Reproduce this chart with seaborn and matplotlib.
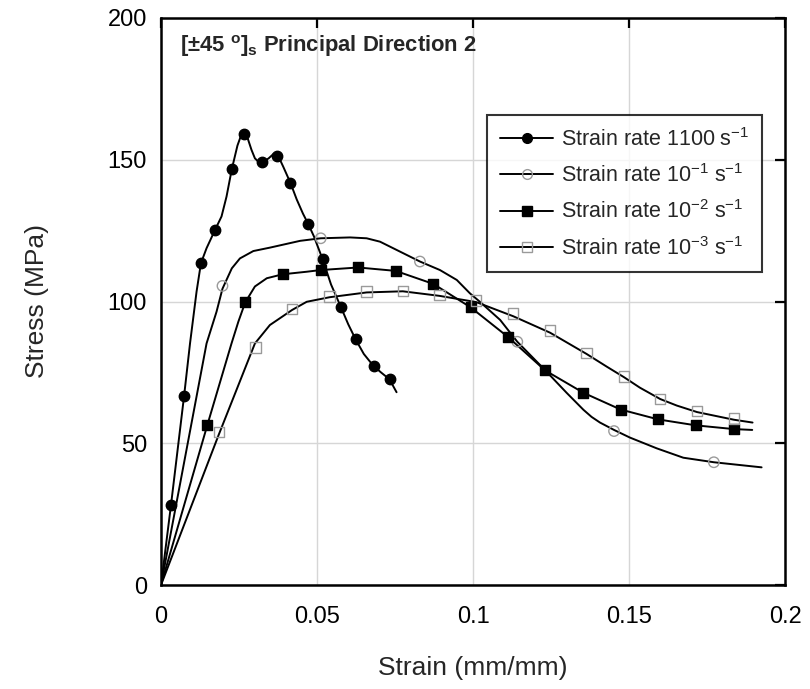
import matplotlib
matplotlib.use("Agg")
import matplotlib.pyplot as plt
from matplotlib.lines import Line2D
from matplotlib.ticker import FixedLocator, FixedFormatter
import seaborn as sns

# ---------------- data ----------------
# Strain rate 1100 s^-1 : curve and markers
r1100_line_x = [0, 0.0032, 0.0074, 0.0093, 0.0114, 0.0128, 0.0146, 0.0173, 0.0194, 0.021, 0.0227, 0.0245,
                0.0258, 0.0267, 0.0278, 0.029, 0.0301, 0.0315, 0.0325, 0.0345, 0.036, 0.0375, 0.0392,
                0.0415, 0.0435, 0.0455, 0.0472, 0.049, 0.0518, 0.0545, 0.0576, 0.06, 0.0624, 0.065,
                0.068, 0.0705, 0.0733, 0.0745, 0.0755]
r1100_line_y = [0, 28.2, 66.7, 85.2, 103.5, 113.5, 118.8, 125.2, 130, 137, 146.7, 155,
                159, 159.5, 157.5, 153.5, 150.5, 149, 149.1, 150.5, 152, 151.5, 147.5,
                141.8, 136, 131, 127.3, 123, 114.9, 106, 98.2, 92, 86.6, 81.5,
                77.4, 75, 72.5, 70, 68]
r1100_mk_x = [0.0032, 0.0074, 0.0128, 0.0173, 0.0227, 0.0267, 0.0325, 0.0371, 0.0415, 0.0472, 0.0518,
              0.0576, 0.0624, 0.0683, 0.0733]
r1100_mk_y = [28.2, 66.7, 113.5, 125.2, 146.7, 159.0, 149.1, 151.4, 141.8, 127.3, 114.9,
              98.2, 86.6, 77.4, 72.5]

# Strain rate 10^-1 s^-1
r1e1_line_x = [0, 0.0146, 0.0178, 0.0197, 0.0227, 0.0253, 0.0296, 0.0349, 0.0446, 0.0512, 0.0606, 0.0659,
               0.0702, 0.0766, 0.083, 0.0894, 0.0948, 0.099, 0.1022, 0.1087, 0.1142, 0.1231, 0.13,
               0.1354, 0.138, 0.1407, 0.1452, 0.1503, 0.1589, 0.1674, 0.1772, 0.1925]
r1e1_line_y = [0, 85.2, 96.4, 104.5, 111.7, 115.2, 117.8, 119.0, 121.4, 122.3, 122.6, 122.3,
               121.1, 117.6, 114.1, 111.1, 107.6, 102.9, 99.9, 93.5, 85.8, 75.8, 67.8,
               61.8, 59.3, 57.3, 54.7, 52.0, 48.2, 44.9, 43.3, 41.5]
r1e1_mk_x = [0.0197, 0.0512, 0.083, 0.1142, 0.1452, 0.1772]
r1e1_mk_y = [105.5, 122.3, 114.1, 85.8, 54.3, 43.3]

# Strain rate 10^-2 s^-1
r1e2_line_x = [0, 0.0149, 0.0226, 0.0248, 0.027, 0.0301, 0.0339, 0.039, 0.0467, 0.0512, 0.0632, 0.0752,
               0.0873, 0.0993, 0.1112, 0.1231, 0.1354, 0.1473, 0.1594, 0.1715, 0.1836, 0.1895]
r1e2_line_y = [0, 56.6, 85.2, 92.9, 99.7, 105.3, 108.2, 109.6, 110.5, 111.1, 112.0, 110.8,
               106.2, 97.9, 87.5, 75.7, 67.8, 61.9, 58.4, 56.3, 55.0, 54.7]
r1e2_mk_x = [0.0149, 0.027, 0.039, 0.0512, 0.0632, 0.0752, 0.0873, 0.0993, 0.1112, 0.1231, 0.1354,
             0.1473, 0.1594, 0.1715, 0.1836]
r1e2_mk_y = [56.6, 99.7, 109.6, 111.1, 112.0, 110.8, 106.2, 97.9, 87.5, 75.7, 67.8,
             61.9, 58.4, 56.3, 55.0]

# Strain rate 10^-3 s^-1
r1e3_line_x = [0, 0.0185, 0.0301, 0.0349, 0.042, 0.0467, 0.054, 0.0659, 0.0775, 0.0892, 0.101, 0.1129,
               0.1247, 0.1364, 0.1429, 0.1484, 0.1535, 0.16, 0.1653, 0.1718, 0.1836, 0.1896]
r1e3_line_y = [0, 53.0, 85.2, 91.7, 97.0, 99.9, 101.5, 103.2, 103.6, 102.0, 99.8, 94.8,
               89.0, 81.5, 77.0, 73.3, 69.6, 65.6, 63.3, 61.0, 58.3, 57.3]
r1e3_mk_x = [0.0185, 0.0303, 0.042, 0.054, 0.0659, 0.0775, 0.0892, 0.101, 0.1129, 0.1247, 0.1364,
             0.1484, 0.16, 0.1718, 0.1836]
r1e3_mk_y = [54.0, 83.8, 97.4, 101.7, 103.5, 103.8, 102.2, 100.3, 95.7, 89.8, 81.9,
             73.5, 65.6, 61.3, 58.8]

labels = ["Strain rate 1100 s$^{-1}$", "Strain rate 10$^{-1}$ s$^{-1}$",
          "Strain rate 10$^{-2}$ s$^{-1}$", "Strain rate 10$^{-3}$ s$^{-1}$"]

x_ticks = [0, 0.05, 0.1, 0.15, 0.2]
x_ticklabels = ["0", "0.05", "0.1", "0.15", "0.2"]
y_ticks = [0, 50, 100, 150, 200]
y_ticklabels = ["0", "50", "100", "150", "200"]

# ---------------- style ----------------
sns.set_style("white")
plt.rcParams["font.family"] = ["Liberation Sans", "DejaVu Sans"]
plt.rcParams["mathtext.fontset"] = "custom"
plt.rcParams["mathtext.rm"] = "Liberation Sans"
plt.rcParams["mathtext.it"] = "Liberation Sans:italic"
plt.rcParams["mathtext.bf"] = "Liberation Sans:bold"
plt.rcParams["mathtext.default"] = "regular"

fig = plt.figure(figsize=(8.10, 6.89), dpi=100)
ax = fig.add_axes([161 / 810, 1 - 585 / 689, 624 / 810, 567 / 689])

series = [
    (r1100_line_x, r1100_line_y, r1100_mk_x, r1100_mk_y, "o", "black", "black", 7.5),
    (r1e1_line_x, r1e1_line_y, r1e1_mk_x, r1e1_mk_y, "o", "none", "#9a9a9a", 7.5),
    (r1e2_line_x, r1e2_line_y, r1e2_mk_x, r1e2_mk_y, "s", "black", "black", 7.5),
    (r1e3_line_x, r1e3_line_y, r1e3_mk_x, r1e3_mk_y, "s", "none", "#9a9a9a", 7.5),
]
lw = 1.4

handles = []
for (lx, ly, mx, my, mk, fc, ec, ms), lab in zip(series, labels):
    sns.lineplot(x=lx, y=ly, sort=False, estimator=None, color="black", linewidth=lw, ax=ax, zorder=2)
    ax.scatter(mx, my, marker=mk, s=ms ** 2, facecolors=fc, edgecolors=ec, linewidths=1.0, zorder=3)
    handles.append(Line2D([0], [0], color="black", linewidth=lw, marker=mk, markersize=ms - 0.5,
                          markerfacecolor=fc, markeredgecolor=ec, markeredgewidth=1.0))

ax.set_xlim(0, 0.2)
ax.set_ylim(0, 200)
ax.xaxis.set_major_locator(FixedLocator(x_ticks))
ax.xaxis.set_major_formatter(FixedFormatter(x_ticklabels))
ax.yaxis.set_major_locator(FixedLocator(y_ticks))
ax.yaxis.set_major_formatter(FixedFormatter(y_ticklabels))
ax.grid(True, color="#d6d6d6", linewidth=1.0)
ax.set_axisbelow(True)
ax.tick_params(direction="in", length=7, width=1.6, top=True, right=True,
               labelsize=17, colors="black")
ax.tick_params(axis="x", pad=15)
ax.tick_params(axis="y", pad=10)
for s in ax.spines.values():
    s.set_color("black")
    s.set_linewidth(1.8)

ax.set_xlabel("Strain (mm/mm)", fontsize=19, labelpad=20)
ax.set_ylabel("Stress (MPa)", fontsize=19, labelpad=42)

ax.text(0.030, 0.951, r"$\mathbf{[\pm45\ ^{o}]_{s}}$ Principal Direction 2", transform=ax.transAxes,
        fontsize=15.8, fontweight="bold", ha="left", va="center")

leg = ax.legend(handles, labels, loc="upper left", bbox_to_anchor=(0.522, 0.829),
                fontsize=15.5, frameon=True, fancybox=False, shadow=False, handlelength=2.5,
                handletextpad=0.35, labelspacing=0.62, borderpad=0.6, borderaxespad=0)
leg.get_frame().set_edgecolor("black")
leg.get_frame().set_linewidth(1.5)

fig.savefig("out.png", dpi=100)
